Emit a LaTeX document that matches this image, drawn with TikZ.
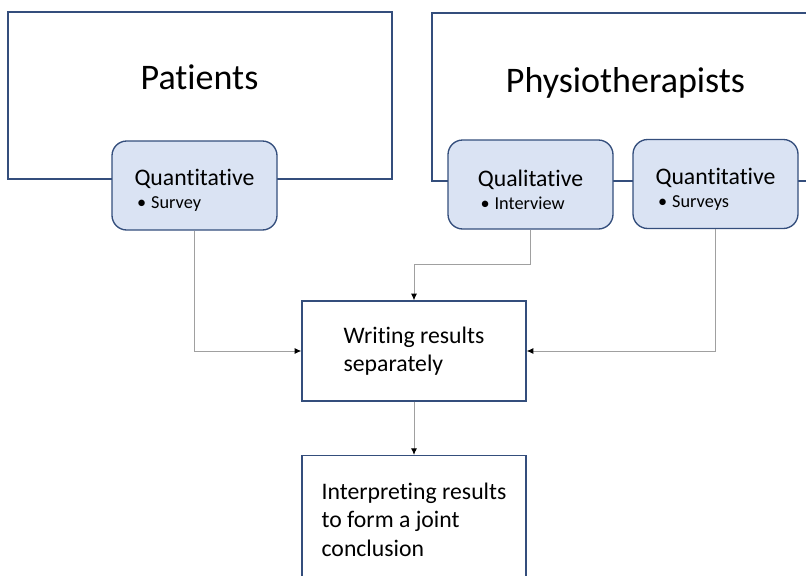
\documentclass[tikz,border=0pt]{standalone}
\usepackage{fontspec}
\setmainfont{Carlito}[Ligatures=NoCommon]
\usetikzlibrary{arrows.meta, positioning}
\definecolor{boxline}{RGB}{52,78,124}
\definecolor{boxfill}{RGB}{218,227,243}
\definecolor{linkgray}{RGB}{160,160,160}
\newcommand{\bulletpoint}[1]{{\fontsize{13.7pt}{17pt}\selectfont\makebox[12.5pt][l]{\hspace{2pt}\textbullet}#1}}
\newcommand{\methodstrut}{\rule{0pt}{20pt}}
\tikzstyle{group} = [rectangle, draw=boxline, line width=1.1pt, inner sep=0]
\tikzstyle{grouplabel} = [anchor=base, inner sep=0, font=\fontsize{27pt}{32pt}\selectfont]
\tikzstyle{method} = [rectangle, rounded corners=11pt, draw=boxline, fill=boxfill, line width=1pt,
                      align=left, font=\fontsize{17.8pt}{21.4pt}\selectfont,
                      minimum width=123.75pt, minimum height=66.75pt]
\tikzstyle{stepbox} = [rectangle, draw=boxline, fill=white, line width=1pt, align=left,
                       font=\fontsize{17.8pt}{21.4pt}\selectfont, minimum width=168pt]
\tikzstyle{link} = [draw=linkgray, line width=0.75pt, -{Latex[color=black, length=5pt, width=4.5pt]}]

\begin{document}
\begin{tikzpicture}[x=0.75pt, y=-0.75pt]
	\useasboundingbox (0, 0) rectangle (806, 575);

	% patients
	\node (Patients) [group, minimum width=288pt, minimum height=125.25pt] at (200, 95.5) {};
	\node (PatientsLabel) [grouplabel] at (199.5, 89) {Patients};

	% physiotherapists
	\node (Physio) [group, minimum width=306pt, minimum height=126pt] at (636, 97) {};
	\node (PhysioLabel) [grouplabel] at (625.5, 92) {Physiotherapists};

	% methods
	\node (PatQuant) [method] at (194.5, 185.5) {\methodstrut Quantitative\\[-4pt]\bulletpoint{Survey}};
	\node (Qual) [method] at (530.5, 184.5) {\methodstrut Qualitative\\[-4pt]\bulletpoint{Interview}};
	\node (PhysQuant) [method] at (715.5, 184) {\methodstrut Quantitative\\[-4pt]\bulletpoint{Surveys}};

	% steps
	\node (Writing) [stepbox, minimum height=75pt] at (414, 351) {Writing results\\separately};
	\node (Interpret) [stepbox, minimum height=96pt, anchor=north] at (414, 455)
		{Interpreting results\\to form a joint\\conclusion};

	% connectors
	\draw [link] (PatQuant.south) |- (Writing.west);
	\coordinate (QualBend) at (530.5, 264);
	\draw [link] (Qual.south) -- (QualBend) -| (Writing.north);
	\draw [link] (PhysQuant.south) |- (Writing.east);
	\draw [link] (Writing) -- (Interpret);
\end{tikzpicture}
\end{document}
